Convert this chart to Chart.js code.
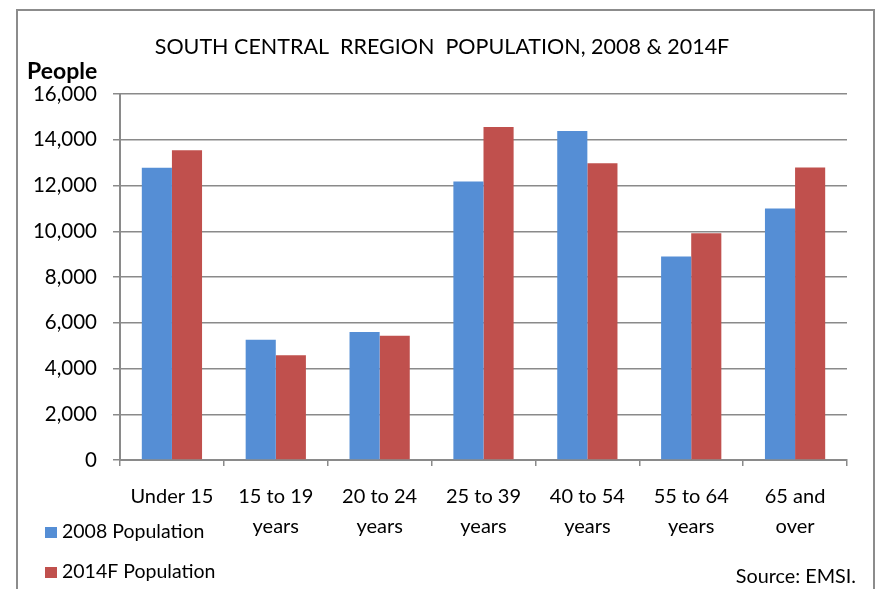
<!DOCTYPE html>
<html>
<head>
<meta charset="utf-8">
<script src="https://cdn.jsdelivr.net/npm/chart.js@4/dist/chart.umd.min.js"></script>
<style>
  html, body { margin: 0; padding: 0; background: #fff; }
  #wrap { width: 879px; height: 589px; position: relative; }
</style>
</head>
<body>
<div id="wrap"><canvas id="chart"></canvas></div>
<script>
const categories = [
  "Under 15",
  ["15 to 19", "years"],
  ["20 to 24", "years"],
  ["25 to 39", "years"],
  ["40 to 54", "years"],
  ["55 to 64", "years"],
  ["65 and", "over"]
]
const pop2008 = [12780, 5260, 5600, 12180, 14380, 8900, 11000]
const pop2014 = [13540, 4580, 5430, 14560, 12970, 9910, 12790]
const yTicks = [0, 2000, 4000, 6000, 8000, 10000, 12000, 14000, 16000]

const FONT = "Lato, 'Open Sans', sans-serif"
const GRID = "#8a8a8a"

// border, title, axis caption, legend and source note
const decor = {
  id: "decor",
  afterDraw(chart) {
    const ctx = chart.ctx
    ctx.save()
    ctx.strokeStyle = "#8c8c8c"
    ctx.lineWidth = 2
    ctx.beginPath()
    ctx.moveTo(17, 600)
    ctx.lineTo(17, 10)
    ctx.lineTo(874, 10)
    ctx.lineTo(874, 600)
    ctx.stroke()

    ctx.fillStyle = "#000"
    ctx.textBaseline = "middle"
    ctx.textAlign = "center"
    ctx.font = "21.5px " + FONT
    ctx.fillText("SOUTH CENTRAL  RREGION  POPULATION, 2008 & 2014F", 442, 47)

    ctx.textAlign = "left"
    ctx.font = "bold 23px " + FONT
    ctx.fillText("People", 27, 72)

    ctx.font = "19.5px " + FONT
    const legendY = [532, 572]
    chart.data.datasets.forEach((ds, i) => {
      ctx.fillStyle = ds.backgroundColor
      ctx.fillRect(45, legendY[i] - 5, 12, 11)
      ctx.fillStyle = "#000"
      ctx.fillText(ds.label, 62, legendY[i])
    })

    ctx.textAlign = "right"
    ctx.font = "19.8px " + FONT
    ctx.fillText("Source: EMSI.", 856, 577)
    ctx.restore()
  }
}

new Chart("chart", {
  type: "bar",
  data: {
    labels: categories,
    datasets: [
      {
        label: "2008 Population",
        data: pop2008,
        backgroundColor: "#558ed5",
        categoryPercentage: 0.58,
        barPercentage: 1.0
      },
      {
        label: "2014F Population",
        data: pop2014,
        backgroundColor: "#c0504d",
        categoryPercentage: 0.58,
        barPercentage: 1.0
      }
    ]
  },
  options: {
    responsive: true,
    maintainAspectRatio: false,
    animation: false,
    layout: {
      padding: { left: 12, right: 32, top: 94, bottom: 0 }
    },
    plugins: {
      legend: { display: false },
      title: { display: false },
      tooltip: { enabled: false }
    },
    scales: {
      x: {
        afterFit: (scale) => { scale.height = 129 },
        grid: {
          drawOnChartArea: false,
          drawTicks: true,
          tickLength: 6,
          color: GRID,
          lineWidth: 1.5
        },
        border: { color: GRID, width: 2 },
        ticks: {
          color: "#000",
          padding: 16,
          maxRotation: 0,
          autoSkip: false,
          font: { family: FONT, size: 20, lineHeight: "30px" }
        }
      },
      y: {
        min: 0,
        max: 16000,
        afterFit: (scale) => { scale.width = 108 },
        afterBuildTicks: (scale) => { scale.ticks = yTicks.map(v => ({ value: v })) },
        grid: {
          color: GRID,
          lineWidth: 1.5,
          tickLength: 7
        },
        border: { color: GRID, width: 2 },
        ticks: {
          color: "#000",
          padding: 16,
          font: { family: FONT, size: 20.5 },
          callback: (v) => v.toLocaleString("en-US")
        }
      }
    }
  },
  plugins: [decor]
})
</script>
</body>
</html>
